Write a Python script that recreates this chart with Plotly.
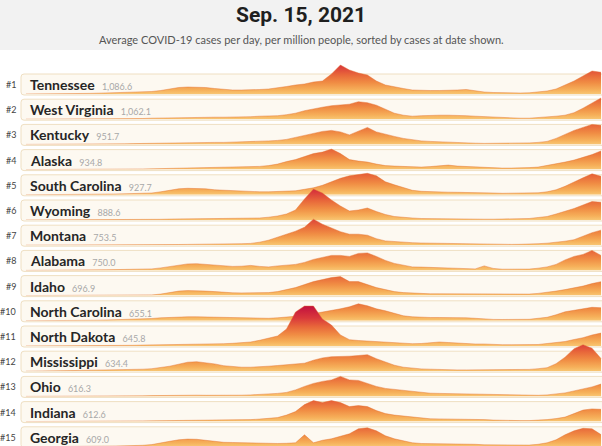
import plotly.graph_objects as go
import pandas as pd

W, H = 602, 446

# ---------------- data ----------------
dates = pd.date_range(end="2021-09-15", periods=65, freq="9D")

states = ["Tennessee", "West Virginia", "Kentucky", "Alaska", "South Carolina",
          "Wyoming", "Montana", "Alabama", "Idaho", "North Carolina",
          "North Dakota", "Mississippi", "Ohio", "Indiana", "Georgia"]
latest_labels = ["1,086.6", "1,062.1", "951.7", "934.8", "927.7", "888.6", "753.5",
                 "750.0", "696.9", "655.1", "645.8", "634.4", "616.3", "612.6", "609.0"]

tennessee = [0, 0, 10, 15, 20, 25, 30, 30, 40, 50, 60, 65, 75, 100, 125, 175, 250, 325, 350, 350,
             325, 275, 225, 200, 200, 200, 225, 250, 300, 375, 450, 500, 600, 650, 1000, 1450, 1200,
             1050, 950, 650, 450, 350, 275, 200, 175, 175, 175, 175, 200, 225, 150, 100, 75, 60, 50,
             50, 60, 100, 150, 250, 450, 650, 900, 1150, 1086.6]
west_virginia = [0, 0, 0, 10, 15, 15, 15, 15, 15, 15, 15, 20, 25, 35, 50, 60, 75, 90, 90, 90,
                 90, 100, 100, 100, 110, 125, 150, 160, 175, 225, 300, 425, 525, 600, 675, 725, 750,
                 875, 825, 700, 500, 300, 200, 150, 175, 200, 200, 200, 200, 175, 150, 125, 100, 75,
                 50, 50, 50, 75, 100, 150, 200, 325, 550, 800, 1062.1]
kentucky = [0, 0, 0, 10, 15, 15, 20, 20, 25, 25, 25, 30, 40, 50, 50, 60, 75, 90, 100, 100,
            100, 100, 100, 110, 125, 140, 150, 175, 200, 250, 350, 450, 550, 650, 700, 625, 475,
            650, 850, 625, 500, 400, 300, 225, 175, 150, 125, 100, 100, 75, 60, 50, 50, 50, 50,
            50, 75, 100, 150, 300, 500, 700, 850, 1000, 951.7]
alaska = [0, 0, 0, 0, 5, 5, 5, 10, 10, 10, 15, 15, 20, 30, 40, 50, 60, 75, 90, 100,
          110, 125, 110, 110, 125, 140, 160, 200, 275, 400, 500, 650, 800, 875, 1025, 800, 500,
          425, 375, 275, 200, 175, 150, 125, 125, 150, 175, 225, 175, 150, 125, 125, 100, 75, 75,
          75, 100, 125, 200, 300, 375, 475, 600, 750, 934.8]
south_carolina = [0, 0, 0, 10, 15, 20, 25, 25, 30, 35, 40, 45, 50, 65, 90, 150, 225, 300, 325, 325,
                  300, 250, 225, 200, 175, 150, 150, 150, 160, 175, 200, 275, 350, 475, 650, 825, 950,
                  1000, 1075, 950, 650, 500, 350, 225, 175, 150, 140, 130, 125, 125, 110, 100, 90, 75,
                  75, 75, 75, 100, 150, 250, 425, 650, 850, 1050, 927.7]
wyoming = [0, 0, 0, 0, 5, 5, 10, 10, 10, 10, 10, 15, 20, 25, 30, 35, 45, 50, 50, 50,
           50, 50, 50, 50, 60, 75, 100, 140, 200, 300, 500, 1050, 1550, 1350, 1000, 700, 450,
           500, 600, 425, 275, 175, 125, 100, 75, 65, 60, 60, 60, 50, 50, 40, 40, 40, 40,
           50, 75, 125, 175, 300, 425, 575, 750, 925, 888.6]
montana = [0, 0, 0, 0, 5, 5, 5, 5, 5, 5, 5, 10, 10, 15, 20, 25, 30, 35, 40, 40,
           40, 40, 50, 60, 75, 90, 150, 250, 400, 550, 700, 900, 1300, 1050, 850, 675, 550,
           550, 500, 325, 215, 175, 150, 125, 110, 100, 90, 80, 70, 60, 50, 45, 40, 40, 40,
           45, 50, 75, 100, 135, 200, 275, 450, 625, 753.5]
alabama = [0, 0, 0, 10, 15, 20, 25, 30, 30, 35, 40, 45, 50, 60, 75, 125, 200, 250, 325, 335,
           300, 250, 225, 200, 210, 250, 200, 175, 225, 275, 300, 400, 550, 650, 750, 750, 700,
           850, 875, 700, 500, 350, 250, 175, 165, 150, 125, 100, 85, 75, 75, 225, 100, 60, 50,
           50, 65, 110, 175, 300, 525, 700, 800, 1000, 750.0]
idaho = [0, 0, 0, 0, 5, 10, 10, 10, 10, 10, 15, 15, 20, 25, 35, 75, 150, 225, 250, 250,
         225, 200, 160, 140, 135, 135, 140, 150, 200, 300, 400, 550, 700, 800, 900, 950, 700,
         700, 550, 400, 300, 200, 150, 125, 100, 90, 90, 90, 85, 85, 80, 75, 65, 60, 60,
         65, 75, 110, 150, 225, 300, 375, 475, 600, 696.9]
north_carolina = [0, 0, 0, 5, 10, 15, 20, 25, 30, 40, 50, 60, 75, 100, 115, 150, 175, 200, 200, 200,
                  190, 175, 165, 150, 135, 125, 120, 125, 150, 175, 225, 275, 350, 425, 500, 600, 700,
                  850, 750, 600, 500, 375, 250, 200, 175, 165, 165, 165, 160, 150, 125, 90, 70, 65,
                  65, 65, 75, 125, 175, 300, 450, 525, 600, 675, 655.1]
north_dakota = [0, 0, 0, 0, 5, 10, 10, 15, 15, 20, 25, 30, 35, 45, 50, 55, 60, 65, 70, 75,
                85, 100, 115, 135, 160, 200, 285, 375, 500, 850, 1700, 2000, 2000, 1350, 1050, 550, 315,
                275, 250, 225, 200, 150, 125, 115, 125, 175, 200, 175, 140, 115, 100, 100, 75, 65,
                65, 65, 65, 75, 125, 175, 225, 325, 415, 550, 645.8]
mississippi = [0, 0, 0, 10, 20, 30, 40, 45, 50, 50, 55, 60, 75, 100, 125, 175, 250, 350, 450, 475,
               425, 365, 275, 225, 200, 200, 215, 250, 285, 325, 365, 400, 550, 665, 725, 725, 750,
               785, 825, 625, 475, 300, 200, 150, 115, 100, 80, 70, 65, 65, 65, 65, 65, 65, 70,
               80, 90, 125, 175, 375, 700, 1125, 1325, 1150, 634.4]
ohio = [0, 0, 0, 5, 10, 15, 20, 25, 25, 25, 25, 25, 25, 30, 40, 50, 65, 70, 65, 60,
        55, 50, 50, 50, 60, 75, 90, 110, 150, 200, 325, 500, 650, 750, 825, 1000, 825,
        800, 650, 500, 400, 350, 310, 250, 175, 160, 150, 140, 135, 135, 130, 115, 90, 65,
        55, 50, 50, 55, 75, 125, 175, 275, 375, 475, 616.3]
indiana = [0, 0, 0, 5, 10, 20, 25, 30, 30, 30, 30, 30, 30, 35, 40, 45, 50, 55, 55, 55,
           55, 55, 60, 65, 80, 100, 125, 150, 200, 325, 500, 850, 1050, 950, 1050, 950, 750,
           800, 750, 550, 400, 325, 275, 225, 160, 140, 135, 135, 135, 130, 125, 100, 75, 55,
           50, 50, 50, 60, 100, 150, 225, 400, 575, 635, 612.6]
georgia = [0, 0, 0, 5, 15, 25, 30, 35, 35, 35, 40, 45, 55, 75, 110, 175, 275, 350, 385, 375,
           325, 275, 225, 215, 200, 185, 175, 165, 165, 175, 200, 600, 200, 325, 400, 525, 650,
           900, 950, 800, 550, 400, 300, 200, 165, 160, 150, 150, 150, 150, 125, 100, 90, 85,
           80, 80, 85, 125, 200, 350, 600, 800, 925, 900, 609.0]

series = [tennessee, west_virginia, kentucky, alaska, south_carolina, wyoming, montana,
          alabama, idaho, north_carolina, north_dakota, mississippi, ohio, indiana, georgia]
for s in series:
    assert len(s) == len(dates), len(s)

title_text = "Sep. 15, 2021"
subtitle_text = "Average COVID-19 cases per day, per million people, sorted by cases at date shown."

# ---------------- layout geometry ----------------
ROW0 = 94.0      # baseline of first row (px from top)
STEP = 25.2      # row spacing (px)
AREA_H = 45.0    # vertical space given to each ridge (px)
UPX = 50.0       # data units per pixel
BOX_H = 21.0

def py(px):
    return 1 - px / H

def px_x(px):
    return px / W

colorscale = [[0.0, "#f8c673"], [0.1, "#f6b05a"], [0.28, "#f08d44"],
              [0.48, "#e8673a"], [0.7, "#d9383b"], [1.0, "#c2103e"]]

fig = go.Figure()
shapes = []
annotations = []

# header band
shapes.append(dict(type="rect", xref="paper", yref="paper", x0=0, x1=1,
                   y0=py(50), y1=1, fillcolor="#f2f2f2", line=dict(width=0), layer="below"))

layout_axes = {}
for i, (name, vals) in enumerate(zip(states, series)):
    base = ROW0 + STEP * i
    top = base - AREA_H
    lo_px = min(base, H)
    d0 = py(lo_px)
    d1 = py(top)
    r0 = (base - lo_px) * UPX
    yname = "y" if i == 0 else f"y{i + 1}"
    ykey = "yaxis" if i == 0 else f"yaxis{i + 1}"
    layout_axes[ykey] = dict(domain=[d0, d1], range=[r0, AREA_H * UPX], visible=False,
                             anchor="x", fixedrange=True)
    fig.add_trace(go.Scatter(
        x=dates, y=vals, xaxis="x", yaxis=yname, mode="lines", fill="tozeroy",
        line=dict(width=0.8, color="rgba(228,112,48,0.55)"),
        fillgradient=dict(type="vertical", colorscale=colorscale, start=0, stop=2000),
        hoverinfo="skip", showlegend=False))

    # row box with rounded left corners
    x0 = px_x(21); x1 = px_x(612)
    yb = py(base + 1); yt = py(base + 1 - BOX_H)
    rx = px_x(3); ry = 3 / H
    path = (f"M {x0 + rx},{yt} L {x1},{yt} L {x1},{yb} L {x0 + rx},{yb} "
            f"Q {x0},{yb} {x0},{yb + ry} L {x0},{yt - ry} Q {x0},{yt} {x0 + rx},{yt} Z")
    shapes.append(dict(type="path", xref="paper", yref="paper", path=path,
                       fillcolor="#fdf9f1", line=dict(color="#efdfc2", width=1), layer="below"))

    yc = py(base + 1 - BOX_H / 2)
    annotations.append(dict(xref="paper", yref="paper", x=px_x(17.5), y=yc, xanchor="right",
                            yanchor="middle", showarrow=False, text=f"#{i + 1}",
                            font=dict(family="Lato", size=9, color="#444444")))
    annotations.append(dict(xref="paper", yref="paper", x=px_x(28), y=yc, xanchor="left",
                            yanchor="middle", showarrow=False,
                            text=(f"<b>{name}</b>&nbsp;&nbsp;<span style='font-size:9px;"
                                  f"color:#a8a8a8'>{latest_labels[i]}</span>"),
                            font=dict(family="Lato", size=14, color="#262626")))

annotations.append(dict(xref="paper", yref="paper", x=0.5, y=py(15), xanchor="center",
                        yanchor="middle", showarrow=False, text=f"<b>{title_text}</b>",
                        font=dict(family="Roboto", size=21, color="#1f1f1f")))
annotations.append(dict(xref="paper", yref="paper", x=0.5, y=py(39.5), xanchor="center",
                        yanchor="middle", showarrow=False, text=subtitle_text,
                        font=dict(family="Lato", size=11, color="#555555")))

fig.update_layout(
    width=W, height=H, margin=dict(l=0, r=0, t=0, b=0),
    paper_bgcolor="white", plot_bgcolor="rgba(0,0,0,0)",
    xaxis=dict(type="date", range=["2020-01-22", "2021-09-16"], visible=False,
               fixedrange=True, domain=[0, 1]),
    shapes=shapes, annotations=annotations, showlegend=False,
    **layout_axes,
)

fig.write_html("out.html", config={"displayModeBar": False},
               post_script="document.body.style.margin='0';document.body.style.overflow='hidden';")
